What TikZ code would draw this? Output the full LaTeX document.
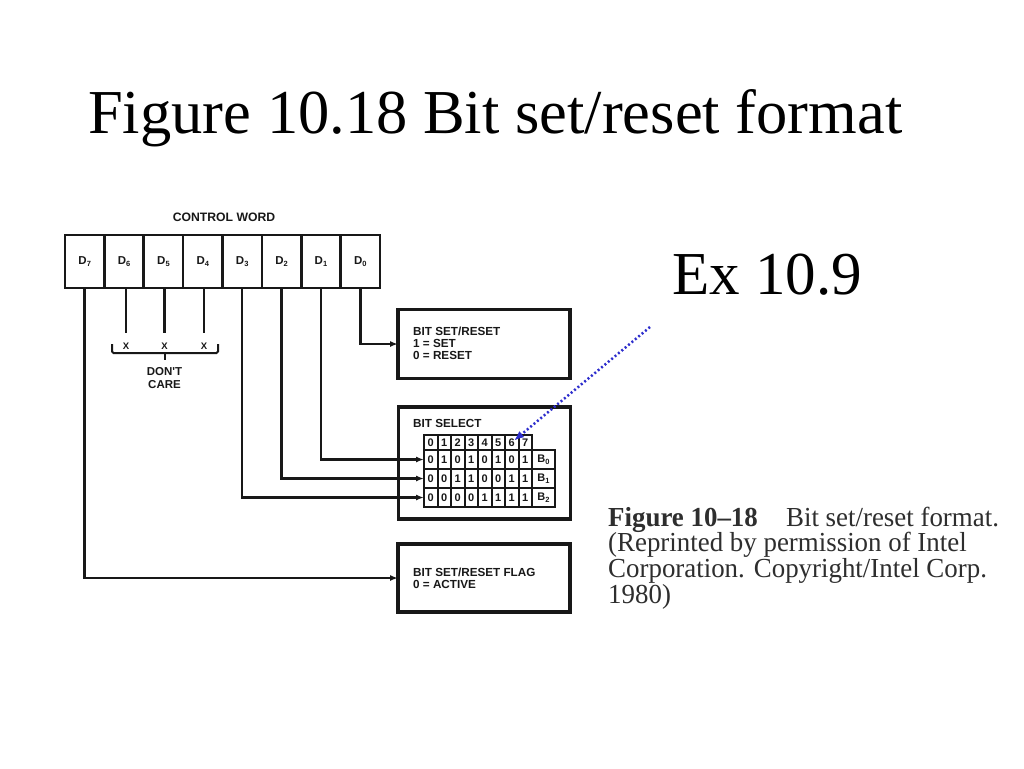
\documentclass[tikz,border=0pt]{standalone}
\usepackage{fontspec}
\setmainfont{Liberation Serif}
\newfontfamily\dsans{Liberation Sans}
\usetikzlibrary{arrows.meta}
\definecolor{ink}{HTML}{181818}
\definecolor{capgray}{HTML}{2E2E2E}
\definecolor{exblue}{RGB}{45,45,205}
\newcommand\Dsub[2]{#1\raisebox{-0.4ex}{\fontsize{7.5}{7.5}\selectfont #2}}
\begin{document}
\begin{tikzpicture}[x=1pt,y=-1pt,
  wordcell/.style={draw=ink, line width=2.6pt, minimum width=39.375pt, minimum height=53pt, inner sep=0pt, outer sep=0pt, font=\dsans\bfseries\fontsize{11.5}{12}\selectfont, text=ink},
  outbox/.style={draw=ink, line width=3.4pt, inner sep=0pt, outer sep=0pt, minimum width=172pt},
  btext/.style={font=\dsans\bfseries\fontsize{11.7}{12.3}\selectfont, text=ink, align=left, inner sep=0pt, anchor=north west},
  smalltext/.style={font=\dsans\bfseries\fontsize{11.5}{12.6}\selectfont, text=ink, align=center, inner sep=0pt},
  xmark/.style={font=\dsans\bfseries\fontsize{9.5}{10}\selectfont, text=ink, inner sep=0pt},
  hcell/.style={draw=ink, line width=2pt, minimum width=13.5pt, minimum height=15pt, inner sep=0pt, outer sep=0pt, font=\dsans\bfseries\fontsize{11}{11}\selectfont, text=ink},
  dcell/.style={hcell, minimum height=19pt},
  bcell/.style={dcell, minimum width=23pt},
  wire/.style={draw=ink, line width=2.4pt},
  arr/.style={wire, -{Latex[length=8pt,width=6pt]}},
  captext/.style={font=\fontsize{27.5}{27.5}\selectfont, text=capgray, inner sep=0pt, anchor=base west},
  bigtext/.style={inner sep=0pt, anchor=base west, text=black}
]
\useasboundingbox[fill=white] (0,0) rectangle (1024,768);

% titles
\node[bigtext, font=\fontsize{62.5}{64}\selectfont] (title) at (88,133) {Figure 10.18 Bit set/reset format};
\node[bigtext, font=\fontsize{61}{62}\selectfont] (ex) at (672,294) {Ex 10.9};

% control word
\node[smalltext, font=\dsans\bfseries\fontsize{12.2}{13}\selectfont] (cw) at (224,217) {CONTROL WORD};
\node[wordcell] (d7) at (84.69,261.5) {\Dsub{D}{7}};
\node[wordcell] (d6) at (124.06,261.5) {\Dsub{D}{6}};
\node[wordcell] (d5) at (163.44,261.5) {\Dsub{D}{5}};
\node[wordcell] (d4) at (202.81,261.5) {\Dsub{D}{4}};
\node[wordcell] (d3) at (242.19,261.5) {\Dsub{D}{3}};
\node[wordcell] (d2) at (281.56,261.5) {\Dsub{D}{2}};
\node[wordcell] (d1) at (320.94,261.5) {\Dsub{D}{1}};
\node[wordcell] (d0) at (360.31,261.5) {\Dsub{D}{0}};

% don't care
\node[xmark] (x6) at (126,346) {X};
\node[xmark] (x5) at (164.5,346) {X};
\node[xmark] (x4) at (204,346) {X};
\coordinate (c6) at (126,333);
\coordinate (c5) at (164.5,333);
\coordinate (c4) at (204,333);
\draw[wire] (c6 |- d6.south) -- (c6);
\draw[wire] (c5 |- d5.south) -- (c5);
\draw[wire] (c4 |- d4.south) -- (c4);
\coordinate (brl) at (112,344);
\coordinate (brr) at (218,344);
\coordinate (brm) at (164.5,353);
\coordinate (brt) at (164.5,360);
\draw[wire, line width=2pt, rounded corners=1.5pt] (brl) |- (brm) -| (brr);
\draw[wire, line width=2pt] (brm) -- (brt);
\node[smalltext] (dc) at (164.5,378) {DON'T\\CARE};

% output boxes
\node[outbox, minimum height=69pt] (bsr) at (484,344) {};
\node[btext] (bsrtext) at (413,326.5) {BIT SET/RESET\\1 = SET\\0 = RESET};

\node[outbox, minimum height=112pt] (bsel) at (484.5,463) {};
\node[btext] (bseltext) at (413,419) {BIT SELECT};

\node[outbox, minimum height=68pt] (flag) at (484,578) {};
\node[btext] (flagtext) at (413,568) {BIT SET/RESET FLAG\\0 = ACTIVE};

% table
\foreach \i in {0,...,7} \node[hcell] (h\i) at ({424+13.5*(\i+0.5)},442.5) {\i};
\foreach \v [count=\c from 0] in {0,1,0,1,0,1,0,1} \node[dcell] (ra\c) at ({424+13.5*(\c+0.5)},459.5) {\v};
\foreach \v [count=\c from 0] in {0,0,1,1,0,0,1,1} \node[dcell] (rb\c) at ({424+13.5*(\c+0.5)},478.5) {\v};
\foreach \v [count=\c from 0] in {0,0,0,0,1,1,1,1} \node[dcell] (rc\c) at ({424+13.5*(\c+0.5)},497.5) {\v};
\node[bcell] (b0) at (543.5,459.5) {\Dsub{B}{0}};
\node[bcell] (b1) at (543.5,478.5) {\Dsub{B}{1}};
\node[bcell] (b2) at (543.5,497.5) {\Dsub{B}{2}};

% connectors
\draw[arr] (d0.south) |- (bsr.west);
\draw[arr] (d1.south) |- (ra0.west);
\draw[arr] (d2.south) |- (rb0.west);
\draw[arr] (d3.south) |- (rc0.west);
\draw[arr] (d7.south) |- (flag.west);

% blue pointer
\coordinate (exstart) at (650,327);
\draw[exblue, line width=2.5pt, dash pattern=on 2pt off 2.4pt, -{Latex[length=10pt,width=8pt]}, shorten >=3pt] (exstart) -- (h6.center);

% caption
\node[captext] (cap1) at (608,526) {\scalebox{0.978}[1]{\textbf{Figure 10–18}\hspace{1.05em}Bit set/reset format.}};
\node[captext] (cap2) at (608,551.7) {\scalebox{0.978}[1]{(Reprinted by permission of Intel}};
\node[captext] (cap3) at (608,577.3) {\scalebox{0.978}[1]{Corporation. Copyright/Intel Corp.}};
\node[captext] (cap4) at (608,603.3) {\scalebox{0.978}[1]{1980)}};
\end{tikzpicture}
\end{document}
